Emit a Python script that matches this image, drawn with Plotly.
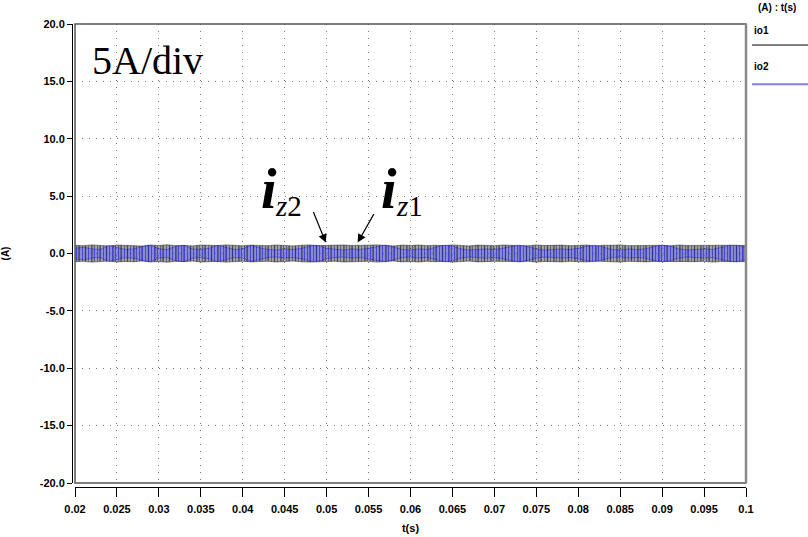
import plotly.graph_objects as go

# time samples (s) at which envelopes were read
t_start, t_step, n_pts = 0.020, 0.001, 81
t = [round(t_start + t_step * i, 4) for i in range(n_pts)]

# io1 (black) ripple envelope amplitude, A
io1_amp = [0.72, 0.68, 0.75, 0.70, 0.66, 0.74, 0.70, 0.72, 0.65, 0.73,
           0.70, 0.76, 0.68, 0.71, 0.66, 0.74, 0.72, 0.69, 0.75, 0.70,
           0.67, 0.73, 0.71, 0.68, 0.74, 0.70, 0.66, 0.72, 0.75, 0.69,
           0.71, 0.67, 0.74, 0.70, 0.72, 0.68, 0.75, 0.71, 0.66, 0.73,
           0.70, 0.74, 0.68, 0.72, 0.69, 0.75, 0.70, 0.66, 0.73, 0.71,
           0.68, 0.74, 0.70, 0.72, 0.67, 0.75, 0.69, 0.71, 0.73, 0.68,
           0.70, 0.74, 0.66, 0.72, 0.71, 0.75, 0.68, 0.70, 0.73, 0.69,
           0.72, 0.67, 0.74, 0.70, 0.71, 0.68, 0.75, 0.70, 0.72, 0.69, 0.71]

# io2 (blue) ripple envelope amplitude, A
io2_amp = [0.45, 0.55, 0.40, 0.35, 0.70, 0.55, 0.35, 0.40, 0.60, 0.72,
           0.40, 0.35, 0.62, 0.70, 0.40, 0.35, 0.45, 0.72, 0.55, 0.35,
           0.40, 0.70, 0.50, 0.35, 0.30, 0.40, 0.35, 0.45, 0.65, 0.70,
           0.45, 0.35, 0.30, 0.40, 0.35, 0.45, 0.60, 0.72, 0.55, 0.35,
           0.30, 0.40, 0.35, 0.55, 0.72, 0.65, 0.40, 0.30, 0.35, 0.40,
           0.35, 0.45, 0.62, 0.72, 0.60, 0.40, 0.30, 0.35, 0.40, 0.35,
           0.45, 0.62, 0.72, 0.55, 0.35, 0.30, 0.40, 0.35, 0.40, 0.60,
           0.72, 0.62, 0.40, 0.30, 0.35, 0.40, 0.35, 0.50, 0.70, 0.72, 0.50]

x_ticks = [0.02, 0.025, 0.03, 0.035, 0.04, 0.045, 0.05, 0.055, 0.06, 0.065,
           0.07, 0.075, 0.08, 0.085, 0.09, 0.095, 0.1]
x_ticklabels = ["0.02", "0.025", "0.03", "0.035", "0.04", "0.045", "0.05", "0.055",
                "0.06", "0.065", "0.07", "0.075", "0.08", "0.085", "0.09", "0.095", "0.1"]
y_ticks = [-20, -15, -10, -5, 0, 5, 10, 15, 20]
y_ticklabels = ["-20.0", "-15.0", "-10.0", "-5.0", "0.0", "5.0", "10.0", "15.0", "20.0"]

fig = go.Figure()


def band(amp):
    xs = t + t[::-1]
    ys = [a for a in amp] + [-a for a in amp[::-1]]
    return xs, ys


bx, by = band(io1_amp)
fig.add_trace(go.Scatter(
    x=bx, y=by, mode="lines", fill="toself", name="io1",
    line=dict(color="rgba(0,0,0,0.7)", width=0.6),
    fillcolor="rgba(0,0,0,0)",
    fillpattern=dict(shape="|", fgcolor="#000000", bgcolor="rgba(40,40,80,0.25)",
                     size=3, solidity=0.6),
    showlegend=False, hoverinfo="skip"))

ux, uy = band(io2_amp)
fig.add_trace(go.Scatter(
    x=ux, y=uy, mode="lines", fill="toself", name="io2",
    line=dict(color="rgba(20,20,230,0.7)", width=0.6),
    fillcolor="rgba(130,130,240,0.6)",
    fillpattern=dict(shape="|", fgcolor="#1010ee", bgcolor="rgba(150,150,240,0.55)",
                     size=3, solidity=0.5),
    showlegend=False, hoverinfo="skip"))

# black spikes overlaid on top (io1 drawn partially over io2)
fig.add_trace(go.Scatter(
    x=bx, y=by, mode="lines", fill="toself", name="io1",
    line=dict(color="rgba(0,0,0,0)", width=0),
    fillcolor="rgba(0,0,0,0)",
    fillpattern=dict(shape="|", fgcolor="rgba(0,0,0,0.6)", bgcolor="rgba(0,0,0,0)",
                     size=7, solidity=0.2),
    showlegend=False, hoverinfo="skip"))

tickfont = dict(family="Liberation Sans, Arial, sans-serif", size=11, color="black", weight="bold")

x0d = 3 / 674
y0d = 4 / 463

fig.update_layout(
    width=808, height=537,
    margin=dict(l=72, r=62, t=24, b=50, autoexpand=False),
    paper_bgcolor="white", plot_bgcolor="white",
    showlegend=False,
    xaxis=dict(domain=[x0d, 1], range=[0.02, 0.1], anchor="free", position=0, automargin=False,
               tickvals=x_ticks, ticktext=x_ticklabels, ticks="outside", ticklen=9,
               tickcolor="black", tickwidth=1, showline=True, linecolor="black", linewidth=1,
               showgrid=True, gridcolor="#777777", griddash="1px,6px", gridwidth=1,
               zeroline=False, tickfont=tickfont, ticklabelstandoff=3,
               title=dict(text="t(s)", font=tickfont, standoff=10)),
    yaxis=dict(domain=[y0d, 1], range=[-20, 20], anchor="free", position=0, automargin=False,
               tickvals=y_ticks, ticktext=y_ticklabels, ticks="outside", ticklen=5,
               tickcolor="black", tickwidth=1, showline=True, linecolor="black", linewidth=1,
               showgrid=True, gridcolor="#777777", griddash="1px,6px", gridwidth=1,
               zeroline=False, tickfont=tickfont,
               title=dict(text="(A)", font=dict(family="Liberation Sans, Arial", size=10,
                                                color="black", weight="bold"), standoff=30)),
)

# plot frame
fig.add_shape(type="rect", xref="paper", yref="paper", x0=x0d, x1=1, y0=y0d, y1=1,
              line=dict(color="#555555", width=1.5), layer="above")
fig.add_shape(type="line", xref="paper", yref="paper", x0=1, x1=1, y0=y0d, y1=1,
              line=dict(color="#8a8a8a", width=2.5), layer="above")

# legend-like header on the right
lab_font = dict(family="Liberation Sans, Arial", size=10, color="black", weight="bold")
fig.add_annotation(xref="paper", yref="paper", x=1.0155, y=1.0346, xanchor="left", yanchor="middle",
                   text="(A) : t(s)", showarrow=False, font=lab_font)
fig.add_annotation(xref="paper", yref="paper", x=1.0085, y=0.987, xanchor="left", yanchor="middle",
                   text="io1", showarrow=False, font=lab_font)
fig.add_annotation(xref="paper", yref="paper", x=1.0085, y=0.909, xanchor="left", yanchor="middle",
                   text="io2", showarrow=False, font=lab_font)
fig.add_shape(type="line", xref="paper", yref="paper", x0=1.009, x1=1.092, y0=0.9546, y1=0.9546,
              line=dict(color="black", width=1))
fig.add_shape(type="line", xref="paper", yref="paper", x0=1.009, x1=1.092, y0=0.870, y1=0.870,
              line=dict(color="#8080e0", width=2))

serif = "Liberation Serif, Times New Roman, serif"
fig.add_annotation(xref="x", yref="y", x=0.0218, y=16.8, xanchor="left", yanchor="middle",
                   text="5A/div", showarrow=False,
                   font=dict(family=serif, size=40, color="black"))

# i_z2 and i_z1 labels
for xi in [0.04313, 0.05744]:
    fig.add_annotation(xref="x", yref="y", x=xi, y=5.6, xanchor="center", yanchor="middle",
                       text="<b><i>i</i></b>", showarrow=False,
                       font=dict(family=serif, size=56, color="black"))
fig.add_annotation(xref="x", yref="y", x=0.04360, y=4.1, xanchor="left", yanchor="middle",
                   text="<i>z</i>2", showarrow=False, font=dict(family=serif, size=29, color="black"))
fig.add_annotation(xref="x", yref="y", x=0.05800, y=4.1, xanchor="left", yanchor="middle",
                   text="<i>z</i>1", showarrow=False, font=dict(family=serif, size=29, color="black"))

# arrows
fig.add_annotation(xref="x", yref="y", x=0.0499, y=0.95, ax=-13, ay=-32, text="",
                   showarrow=True, arrowhead=2, arrowsize=1.4, arrowwidth=1.2, arrowcolor="black")
fig.add_annotation(xref="x", yref="y", x=0.0537, y=0.95, ax=17, ay=-30, text="",
                   showarrow=True, arrowhead=2, arrowsize=1.4, arrowwidth=1.2, arrowcolor="black")

fig.write_html("out.html")
